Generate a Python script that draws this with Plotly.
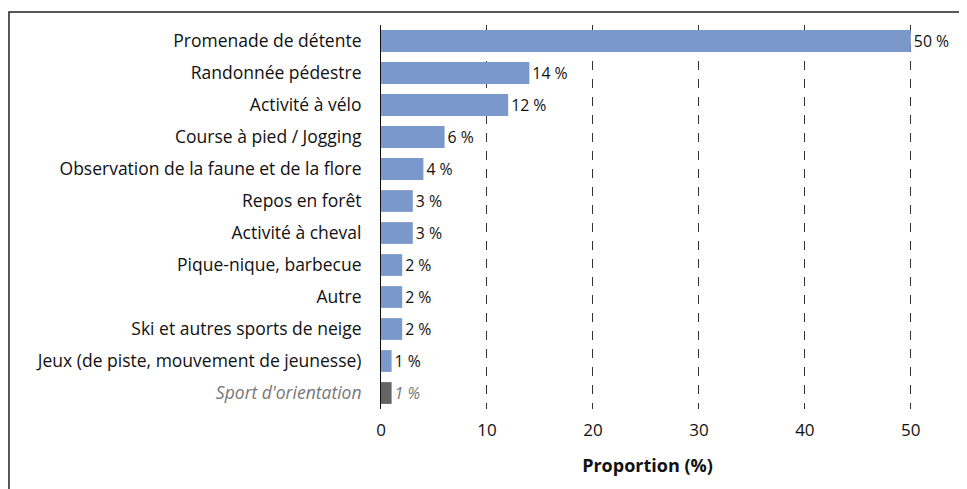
import plotly.graph_objects as go

activites = [
    "Promenade de détente",
    "Randonnée pédestre",
    "Activité à vélo",
    "Course à pied / Jogging",
    "Observation de la faune et de la flore",
    "Repos en forêt",
    "Activité à cheval",
    "Pique-nique, barbecue",
    "Autre",
    "Ski et autres sports de neige",
    "Jeux (de piste, mouvement de jeunesse)",
    "Sport d'orientation",
]
proportions = [50, 14, 12, 6, 4, 3, 3, 2, 2, 2, 1, 1]

bleu = "#7B98CC"
gris = "#646464"
couleurs = [bleu] * (len(activites) - 1) + [gris]
couleurs_texte = ["#111111"] * (len(activites) - 1) + ["#777777"]
etiquettes = [f"{v} %" for v in proportions]
etiquettes[-1] = f"<i>{proportions[-1]} %</i>"
ticks = list(activites)
ticks[-1] = f"<i><span style='color:#777777'>{activites[-1]}</span></i>"

police = "Open Sans"

fig = go.Figure(go.Bar(
    x=proportions,
    y=activites,
    orientation="h",
    marker=dict(color=couleurs, line=dict(width=0)),
    width=0.68,
    text=etiquettes,
    textposition="outside",
    textfont=dict(family=police, size=16, color=couleurs_texte),
    cliponaxis=False,
))

# la page ajoute une marge de 8 px autour de la figure
fig.update_layout(
    width=967,
    height=489,
    margin=dict(l=373, r=61, t=17, b=88, autoexpand=False),
    plot_bgcolor="white",
    paper_bgcolor="white",
    showlegend=False,
    font=dict(family=police, size=17, color="#111111"),
    xaxis=dict(
        range=[0, 50.3],
        tickvals=[0, 10, 20, 30, 40, 50],
        showgrid=True,
        gridcolor="#333333",
        griddash="dash",
        gridwidth=1,
        zeroline=False,
        showline=False,
        ticks="",
        automargin=False,
        ticklabelstandoff=9,
        tickfont=dict(size=17),
        title=dict(text="<b>Proportion (%)</b>", font=dict(size=18), standoff=19),
    ),
    yaxis=dict(
        categoryorder="array",
        categoryarray=activites[::-1],
        tickvals=activites,
        ticktext=ticks,
        showgrid=False,
        showline=True,
        linecolor="#111111",
        linewidth=1,
        ticks="",
        automargin=False,
        ticklabelstandoff=15,
        tickfont=dict(size=17.5),
    ),
    shapes=[dict(
        type="rect", xref="paper", yref="paper",
        x0=-0.698, x1=1.12, y0=-0.25, y1=1.034,
        line=dict(color="#222222", width=1.5),
        fillcolor="rgba(0,0,0,0)",
        layer="below",
    )],
)

fig.write_html("out.html")
